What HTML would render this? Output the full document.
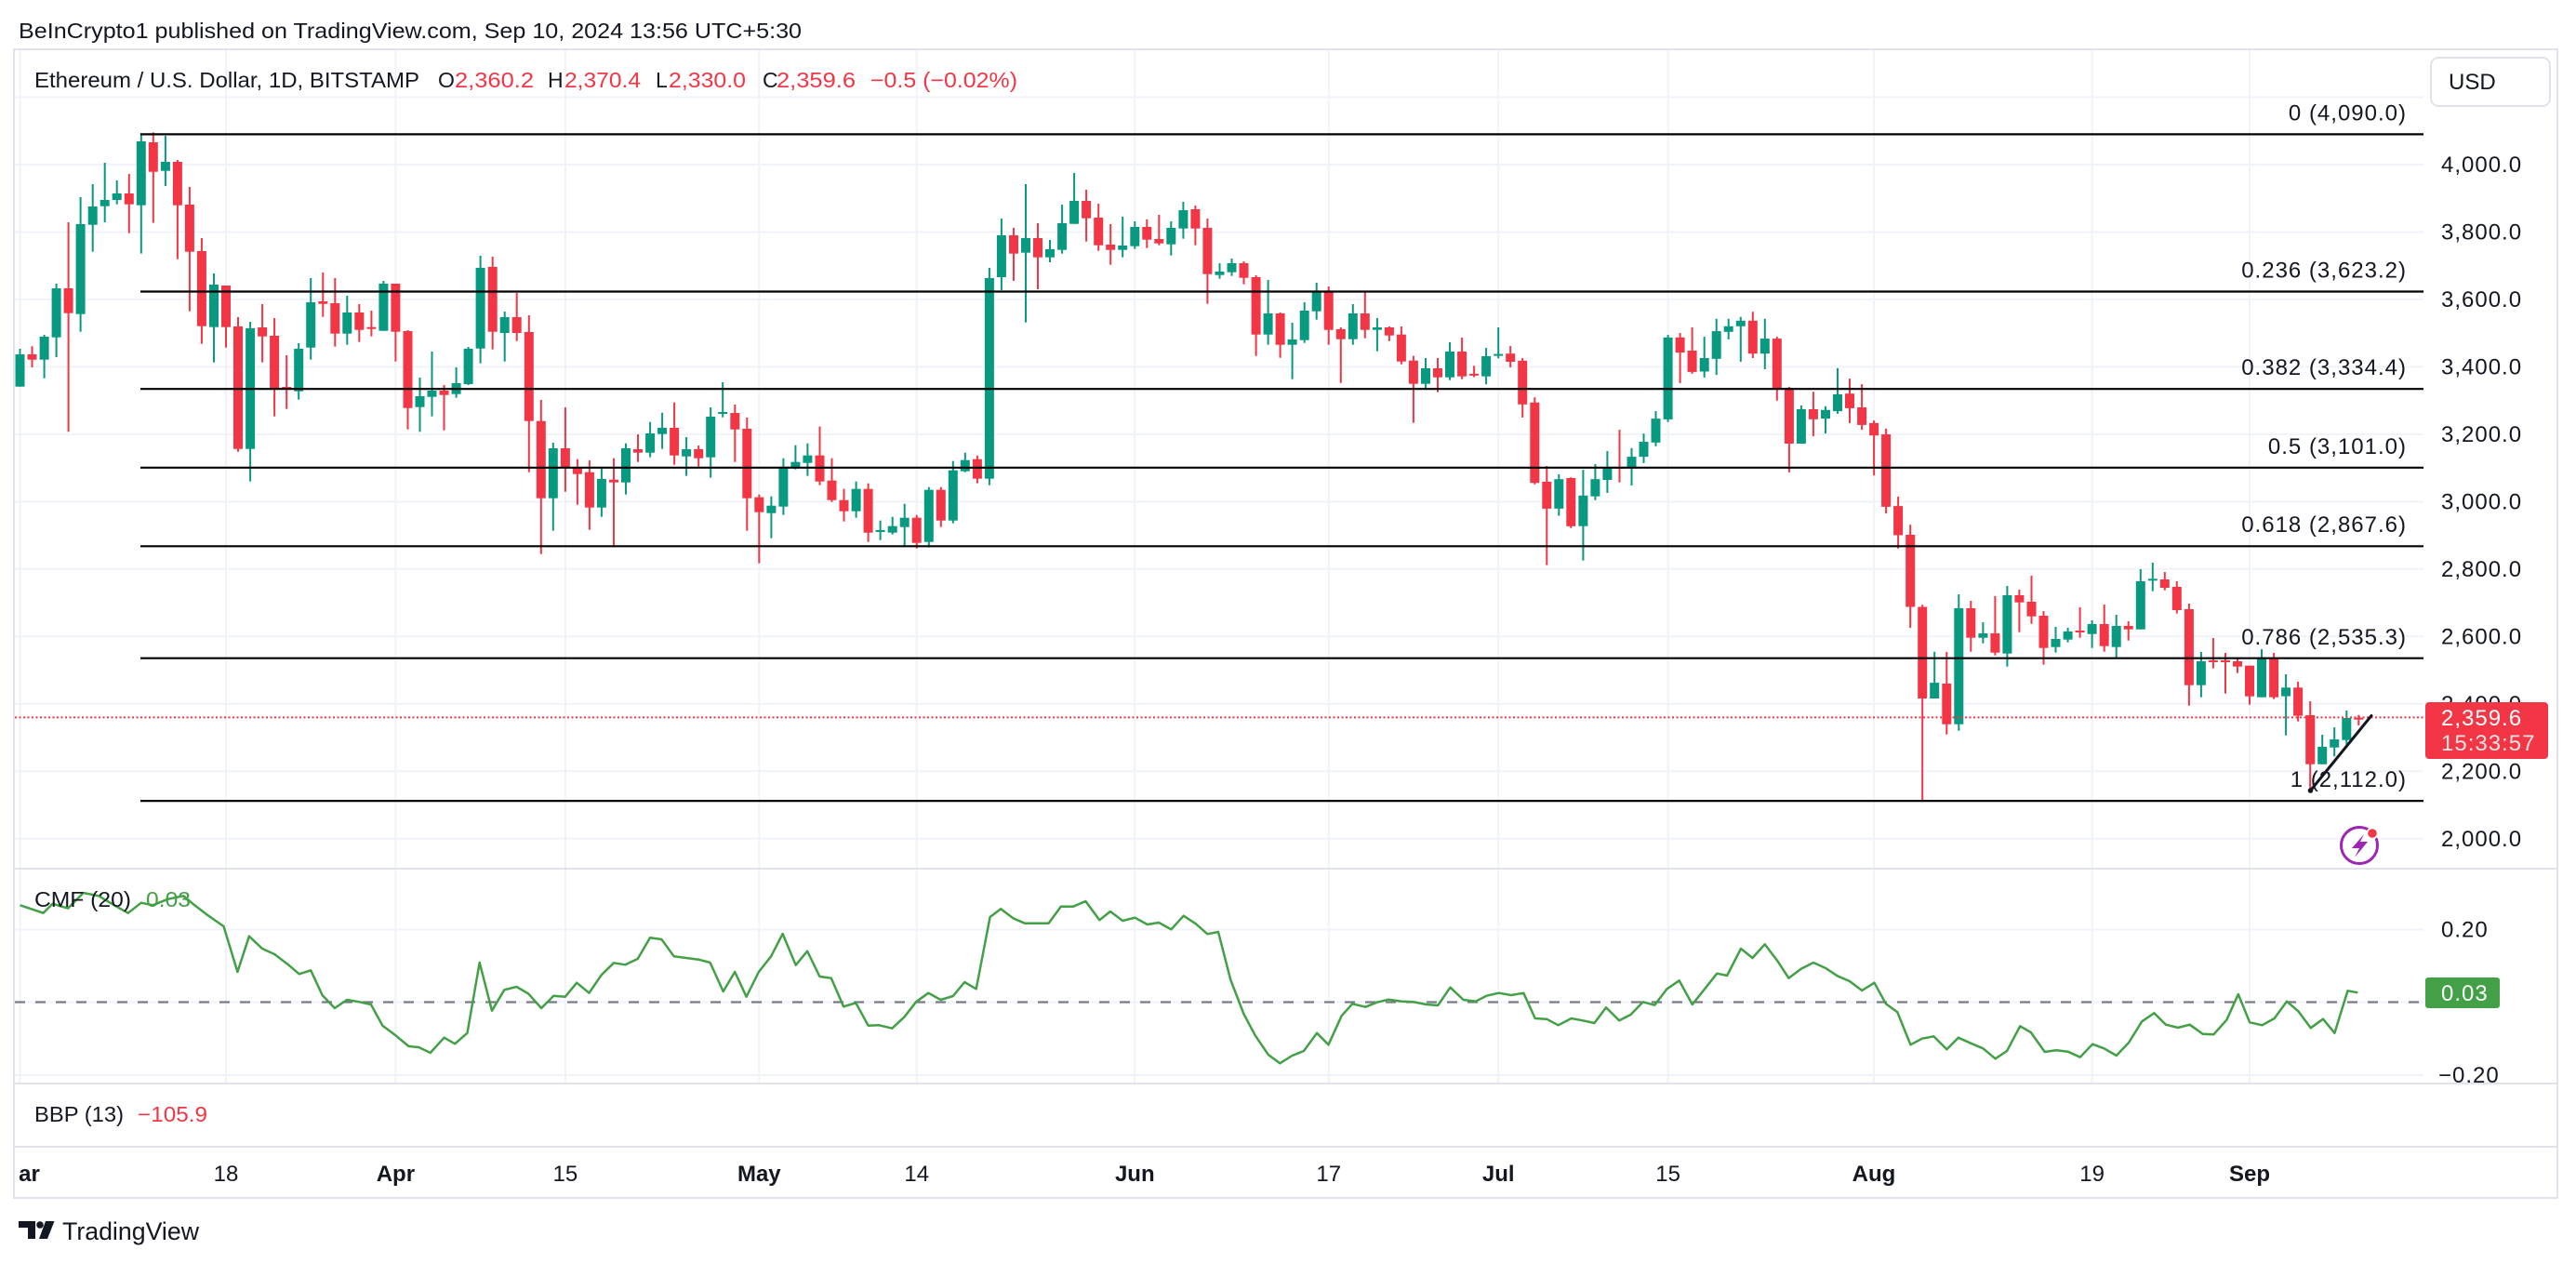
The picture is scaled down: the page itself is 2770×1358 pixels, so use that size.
<!DOCTYPE html>
<html><head><meta charset="utf-8">
<style>
html,body{margin:0;padding:0;background:#fff;}
svg{display:block;}
text{font-family:"Liberation Sans",Arial,sans-serif;fill:#131722;}
.ax{font-size:24px;letter-spacing:1px;}
.fb{font-size:24px;letter-spacing:1px;text-anchor:end;}
.tm{font-size:24px;text-anchor:middle;}
.tmb{font-size:24px;text-anchor:middle;font-weight:bold;}
.lg{font-size:23px;}
.rd{fill:#f23645;}
</style></head><body>
<svg id="s" width="2770" height="1358" viewBox="0 0 2770 1358" xmlns="http://www.w3.org/2000/svg">
<defs>
<clipPath id="cm"><rect x="16" y="54" width="2590" height="879"/></clipPath>
<clipPath id="cc"><rect x="16" y="935" width="2590" height="229"/></clipPath>
<clipPath id="ct"><rect x="20" y="1234" width="2586" height="53"/></clipPath>
</defs>
<rect width="2770" height="1358" fill="#fff"/>

<!-- header -->
<text x="20" y="41" font-size="23" textLength="842" lengthAdjust="spacingAndGlyphs">BeInCrypto1 published on TradingView.com, Sep 10, 2024 13:56 UTC+5:30</text>

<!-- gridlines -->
<path d="M15 104.5H2606M15 177H2606M15 249.5H2606M15 321.9H2606M15 394.4H2606M15 466.9H2606M15 539.4H2606M15 611.8H2606M15 684.3H2606M15 756.8H2606M15 829.2H2606M15 901.7H2606" stroke="#f0f3fa" stroke-width="2" fill="none"/>
<path d="M15 999.5H2606M15 1077.5H2606M15 1156H2606" stroke="#f0f3fa" stroke-width="2" fill="none"/>
<path d="M21.5 54V1164M243 54V1164M425.4 54V1164M607.9 54V1164M816.3 54V1164M985.7 54V1164M1220.3 54V1164M1428.7 54V1164M1611.2 54V1164M1793.6 54V1164M2015 54V1164M2249.6 54V1164M2419 54V1164" stroke="#f0f3fa" stroke-width="2" fill="none"/>

<!-- candles -->
<g id="candles" clip-path="url(#cm)"></g>

<!-- fib lines -->
<path d="M151 144.4H2606M151 313.5H2606M151 418.2H2606M151 502.8H2606M151 587.3H2606M151 707.7H2606M151 861.1H2606" stroke="#000" stroke-width="2.2" fill="none"/>
<text class="fb" x="2588" y="129.5">0 (4,090.0)</text>
<text class="fb" x="2588" y="298.5">0.236 (3,623.2)</text>
<text class="fb" x="2588" y="403">0.382 (3,334.4)</text>
<text class="fb" x="2588" y="488">0.5 (3,101.0)</text>
<text class="fb" x="2588" y="572">0.618 (2,867.6)</text>
<text class="fb" x="2588" y="693">0.786 (2,535.3)</text>
<text class="fb" x="2588" y="846">1 (2,112.0)</text>

<!-- current price line -->
<line x1="16" y1="771.4" x2="2606" y2="771.4" stroke="#f23645" stroke-width="2" stroke-dasharray="2 2.5"/>

<!-- trend line -->
<line x1="2484.5" y1="850" x2="2550" y2="769.5" stroke="#131722" stroke-width="3" stroke-linecap="round"/>
<circle cx="2484.5" cy="850" r="2.8" fill="#131722"/>

<!-- lightning icon -->
<circle cx="2537" cy="909" r="19.5" fill="#fff" stroke="#9c27b0" stroke-width="3"/>
<path d="M2542 897 L2529 912 H2537 L2532 922 L2546 905 H2538 Z" fill="#9c27b0"/>
<circle cx="2551" cy="896" r="6.5" fill="#fff"/>
<circle cx="2551" cy="896" r="4.8" fill="#f23645"/>

<!-- legend -->
<text class="lg" x="37" y="94" textLength="414" lengthAdjust="spacingAndGlyphs">Ethereum / U.S. Dollar, 1D, BITSTAMP</text>
<text class="lg" x="471" y="94">O</text>
<text class="lg rd" x="489" y="94" textLength="85" lengthAdjust="spacingAndGlyphs">2,360.2</text>
<text class="lg" x="589" y="94">H</text>
<text class="lg rd" x="607" y="94" textLength="82" lengthAdjust="spacingAndGlyphs">2,370.4</text>
<text class="lg" x="705" y="94">L</text>
<text class="lg rd" x="719" y="94" textLength="83" lengthAdjust="spacingAndGlyphs">2,330.0</text>
<text class="lg" x="820" y="94">C</text>
<text class="lg rd" x="835" y="94" textLength="85" lengthAdjust="spacingAndGlyphs">2,359.6</text>
<text class="lg rd" x="936" y="94" textLength="158" lengthAdjust="spacingAndGlyphs">−0.5 (−0.02%)</text>

<!-- price axis -->
<rect x="2614" y="62" width="128" height="52" rx="8" fill="#fff" stroke="#e0e3eb" stroke-width="2"/>
<text x="2633" y="96" font-size="24">USD</text>
<text class="ax" x="2625" y="185">4,000.0</text>
<text class="ax" x="2625" y="257.5">3,800.0</text>
<text class="ax" x="2625" y="330">3,600.0</text>
<text class="ax" x="2625" y="402.5">3,400.0</text>
<text class="ax" x="2625" y="475">3,200.0</text>
<text class="ax" x="2625" y="547.5">3,000.0</text>
<text class="ax" x="2625" y="620">2,800.0</text>
<text class="ax" x="2625" y="692.5">2,600.0</text>
<text class="ax" x="2625" y="765">2,400.0</text>
<text class="ax" x="2625" y="837.5">2,200.0</text>
<text class="ax" x="2625" y="910">2,000.0</text>
<rect x="2608" y="755" width="132" height="61" rx="4" fill="#f23645"/>
<text class="ax" x="2625" y="780" style="fill:#fff">2,359.6</text>
<text class="ax" x="2625" y="807" style="fill:#fff;opacity:0.85">15:33:57</text>

<!-- CMF pane -->
<line x1="16" y1="1077.5" x2="2606" y2="1077.5" stroke="#787b86" stroke-width="2.2" stroke-dasharray="11 11"/>
<g id="cmf" clip-path="url(#cc)"></g>
<text class="lg" x="37" y="975" textLength="104" lengthAdjust="spacingAndGlyphs">CMF (20)</text>
<text class="lg" x="157" y="975" textLength="48" lengthAdjust="spacingAndGlyphs" style="fill:#43a047">0.03</text>
<text class="ax" x="2625" y="1007.5">0.20</text>
<text class="ax" x="2622" y="1164">−0.20</text>
<rect x="2608" y="1051" width="80" height="33" rx="3" fill="#43a047"/>
<text class="ax" x="2625" y="1076" style="fill:#fff">0.03</text>

<!-- BBP pane -->
<text class="lg" x="37" y="1206" textLength="96" lengthAdjust="spacingAndGlyphs">BBP (13)</text>
<text class="lg rd" x="148" y="1206" textLength="75" lengthAdjust="spacingAndGlyphs">−105.9</text>

<!-- time axis -->
<g clip-path="url(#ct)">
<text class="tmb" x="21.5" y="1270">Mar</text>
</g>
<text class="tm" x="243" y="1270">18</text>
<text class="tmb" x="425.4" y="1270">Apr</text>
<text class="tm" x="607.9" y="1270">15</text>
<text class="tmb" x="816.3" y="1270">May</text>
<text class="tm" x="985.7" y="1270">14</text>
<text class="tmb" x="1220.3" y="1270">Jun</text>
<text class="tm" x="1428.7" y="1270">17</text>
<text class="tmb" x="1611.2" y="1270">Jul</text>
<text class="tm" x="1793.6" y="1270">15</text>
<text class="tmb" x="2015" y="1270">Aug</text>
<text class="tm" x="2249.6" y="1270">19</text>
<text class="tmb" x="2419" y="1270">Sep</text>

<!-- pane separators & frame -->
<path d="M15 934H2750M15 1165H2750M15 1233H2750" stroke="#e0e3eb" stroke-width="2" fill="none"/>
<rect x="15" y="53" width="2735" height="1235" fill="none" stroke="#e0e3eb" stroke-width="2"/>

<!-- footer logo -->
<path d="M20 1313H38V1332H30V1320H20Z" fill="#131722"/>
<circle cx="43" cy="1317" r="3.8" fill="#131722"/>
<path d="M49 1313H58.5L51 1332H42Z" fill="#131722"/>
<text x="67" y="1333" font-size="27" textLength="147" lengthAdjust="spacingAndGlyphs">TradingView</text>
</svg>

<script>
(function(){
var NS='http://www.w3.org/2000/svg';
function el(tag,a,p){var e=document.createElementNS(NS,tag);for(var k in a)e.setAttribute(k,a[k]);p.appendChild(e);return e;}
var A=[[1,753,857,735,857],[0,753,770,727,795],[1,696,770,690,830],[1,540,698,525,762],[0,540,620,327,1003],[1,333,623,246,680],[1,276,335,204,422],[1,255,275,135,327],[1,234,255,192,269],[0,234,269,171,362],[1,66,272,40,428],[0,69,164,37,329],[1,132,161,48,210],[0,132,272,126,446],[0,270,422,213,614],[0,420,662,378,719],[1,528,665,492,779],[0,531,665,531,731],[0,663,1058,633,1067],[1,669,1058,648,1163],[0,666,695,591,779],[0,693,863,636,953],[0,858,863,756,929],[1,735,872,717,899],[1,585,731,507,770],[0,582,590,489,632],[0,588,686,507,728],[1,618,686,564,722],[0,618,674,591,713],[0,665,670,612,695],[1,525,677,516,677],[0,525,680,525,776],[0,678,926,675,995],[1,888,923,828,1003],[1,870,890,744,953],[0,870,884,852,998],[1,846,881,795,893],[1,735,849,729,852],[1,474,734,435,782],[0,471,680,438,737]];
var B=[[1,633,684,615,776],[0,633,684,555,710],[0,681,968,627,1133],[0,968,1217,900,1397],[1,1056,1217,1038,1322],[0,1056,1118,924,1196],[0,1118,1139,1091,1238],[0,1133,1247,1095,1319],[1,1155,1247,1121,1277],[0,1157,1166,1088,1373],[1,1056,1166,1040,1205],[0,1059,1070,1011,1100],[1,1008,1070,971,1085],[1,990,1010,941,1058],[0,990,1079,908,1109],[1,1059,1082,1020,1145],[0,1059,1088,1047,1115],[1,954,1085,924,1151],[1,939,944,843,956],[0,942,995,915,1100],[0,993,1217,957,1322],[0,1214,1262,1205,1427],[1,1241,1265,1211,1346],[1,1115,1244,1088,1271],[1,1100,1118,1046,1124],[1,1079,1103,1040,1145],[0,1079,1163,986,1175],[0,1160,1223,1088,1229],[0,1223,1259,1187,1292],[1,1187,1259,1163,1280],[0,1187,1328,1169,1358],[1,1320,1325,1289,1352],[1,1307,1328,1277,1334],[1,1280,1310,1235,1373],[0,1280,1361,1271,1379],[1,1190,1358,1181,1376],[0,1190,1289,1181,1310],[1,1127,1289,1097,1298],[1,1094,1130,1070,1133],[0,1091,1154,1079,1169]];
var C=[[1,507,1154,474,1175],[1,369,504,315,546],[0,369,428,345,516],[1,378,425,204,650],[0,378,440,330,543],[1,414,440,384,456],[1,330,416,270,428],[1,258,332,168,332],[0,258,314,222,389],[0,312,401,267,419],[0,399,416,333,464],[1,402,416,309,440],[1,342,404,324,413],[0,342,383,318,410],[0,381,395,303,401],[1,345,398,324,434],[1,288,347,261,380],[0,285,347,273,401],[0,345,494,315,590],[1,486,497,459,509],[1,459,488,444,500],[0,459,506,453,527],[0,504,689,498,758],[1,621,689,513,722],[0,621,722,618,764],[1,705,722,651,833],[1,612,707,585,716],[1,549,614,522,641],[0,549,674,534,722],[0,672,704,666,845],[1,621,704,591,722],[0,621,674,549,701],[1,666,674,636,743],[0,666,692,663,710],[0,689,776,663,785],[0,773,848,758,974],[1,798,848,765,862],[0,798,827,765,875],[1,744,827,714,836],[0,744,824,699,833]];
var D=[[0,378,383,357,387],[1,331,385,309,406],[1,325,330,254,337],[0,324,346,304,361],[0,343,460,336,495],[0,455,670,441,674],[0,667,739,625,890],[1,660,739,647,758],[0,657,786,655,791],[1,704,786,635,878],[1,660,706,620,716],[1,627,662,585,697],[0,627,631,528,669],[1,600,631,577,677],[1,560,600,538,617],[1,498,562,478,572],[1,281,500,274,507],[0,281,321,269,403],[0,316,373,254,378],[1,336,372,279,388],[1,264,338,231,381],[1,251,266,231,286],[1,236,251,226,346],[0,236,324,212,336],[1,284,324,231,366],[0,284,420,279,450],[0,416,565,413,642],[1,473,565,463,565],[0,473,500,426,545],[1,475,498,465,538],[1,433,478,363,485],[0,431,470,391,510],[0,468,515,406,528],[0,510,543,503,650],[0,540,734,525,752],[0,732,810,707,846],[0,809,1002,782,1058],[0,1002,1247,996,1523],[1,1205,1247,1122,1247]];
var E=[[0,465,596,363,629],[1,222,596,177,617],[0,222,317,198,362],[1,303,317,267,335],[0,303,365,183,374],[1,180,368,150,410],[0,180,203,162,299],[0,201,248,117,272],[0,246,350,231,404],[1,321,347,282,365],[1,297,323,285,332],[0,294,299,219,317],[1,273,305,261,350],[0,273,344,210,362],[1,279,347,243,380],[0,279,290,264,326],[1,135,290,96,290],[1,127,131,75,167],[0,129,156,105,164],[0,153,228,135,239],[0,225,470,207,536],[1,393,470,363,509],[0,390,395,318,416],[0,390,395,366,497],[0,393,410,384,431],[0,407,506,407,533],[1,381,509,354,509],[0,381,509,366,515],[1,478,506,435,632],[0,478,569,459,587],[0,567,725,522,812],[1,669,725,630,725],[1,645,671,606,700],[1,576,647,552,662],[0,575,579,566,600]];
var segs=[[0,130,3,A],[40,130,3,B],[80,130,3,C],[120,250,2.489,D],[159,580,3,E]];
var g=document.getElementById('candles');
segs.forEach(function(s){
  var st=s[0],yo=s[1],ys=s[2],arr=s[3];
  arr.forEach(function(c,j){
    var i=st+j,x=21.5+13.03*i,col=c[0]?'#089981':'#f23645';
    function Y(v){return yo+v/ys;}
    var wt=Y(c[3]),wb=Y(c[4]),bt=Y(c[1]),bb=Y(c[2]);
    if(bb-bt<2)bb=bt+2;
    el('rect',{x:(x-1).toFixed(1),y:wt.toFixed(1),width:2,height:Math.max(wb-wt,2).toFixed(1),fill:col},g);
    el('rect',{x:(x-5).toFixed(1),y:bt.toFixed(1),width:10,height:(bb-bt).toFixed(1),fill:col},g);
  });
});
var P1=[[8,100],[38,125],[50,95],[70,110],[90,60],[110,70],[130,100],[148,125],[165,92],[180,100],[200,80],[220,70],[232,95],[250,130],[272,168],[290,315],[305,200],[322,240],[338,258],[355,290],[370,322],[385,310],[400,390],[416,432],[432,405],[448,412],[463,420],[478,488],[495,520],[512,555],[525,558],[540,576],[558,527],[572,547],[588,512],[604,285],[620,440],[636,373],[652,363],[667,385],[684,432],[700,392],[715,395],[730,350],[746,383],[762,325],[778,286],[793,292],[809,273],[825,205],[840,210],[856,265],[872,270],[888,275],[903,285],[920,378],[935,315],[950,395],[966,315],[982,265],[997,192],[1014,293],[1029,248],[1045,330],[1060,335],[1076,427],[1092,415],[1108,488],[1122,487],[1139,497],[1155,460],[1170,412],[1186,383],[1202,405],[1218,393],[1233,348],[1248,370],[1266,138],[1280,112],[1296,142],[1311,158],[1342,158],[1358,104],[1374,104],[1390,87],[1408,148],[1422,120],[1438,150],[1454,140],[1470,162],[1485,156],[1501,178],[1517,134],[1533,160],[1548,193],[1562,186]];
var P2=[[28,340],[45,450],[60,520],[77,582],[92,610],[108,585],[123,570],[140,512],[155,550],[172,457],[186,418],[203,428],[218,413],[233,404],[250,410],[265,412],[282,420],[297,423],[313,365],[330,405],[346,410],[360,392],[376,383],[392,390],[408,383],[423,465],[438,467],[453,487],[470,465],[485,472],[500,480],[515,430],[532,472],[547,453],[563,412],[578,422],[594,370],[610,343],[627,420],[643,370],[659,320],[672,327],[690,240],[705,270],[721,226],[737,278],[752,335],[768,305],[784,285],[800,303],[815,328],[831,345],[847,375],[863,350],[878,418],[893,445],[910,550],[925,530],[940,523],[957,565],[972,527],[988,545],[1004,562],[1020,595],[1035,570],[1052,490],[1066,510],[1084,573],[1099,568],[1114,572],[1130,590],[1146,548],[1161,562],[1177,585],[1193,543],[1210,475],[1226,448],[1241,485],[1257,495],[1272,485],[1289,515],[1303,517],[1320,470],[1335,387],[1350,478],[1366,487],[1382,465],[1398,410],[1413,442],[1429,496],[1445,467],[1460,512],[1477,376],[1490,382]];
var pts=P1.map(function(p){return [15+p[0]/1.2062,940+p[1]/3];}).concat(P2.map(function(p){return [1300+p[0]/1.2062,940+p[1]/3];}));
el('polyline',{points:pts.map(function(p){return p[0].toFixed(1)+','+p[1].toFixed(1);}).join(' '),fill:'none',stroke:'#43a047','stroke-width':2.5,'stroke-linejoin':'round'},document.getElementById('cmf'));
})();
</script>
</body></html>
